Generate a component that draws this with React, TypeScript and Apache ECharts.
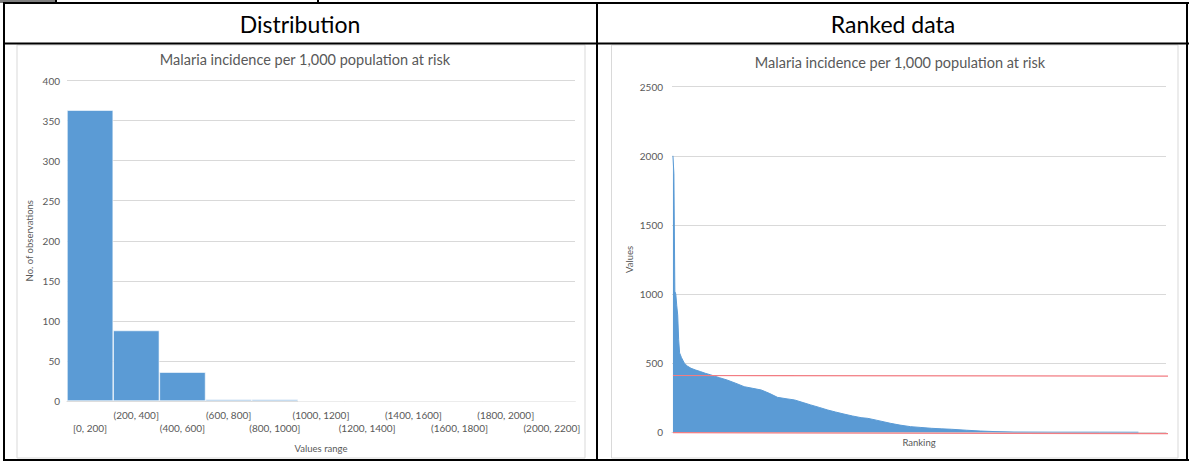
import React, { useEffect, useRef } from "react";
import * as echarts from "echarts";

const headerLeft = "Distribution";
const headerRight = "Ranked data";
const chartTitle = "Malaria incidence per 1,000 population at risk";

const distCategories = [
  "[0, 200]", "(200, 400]", "(400, 600]", "(600, 800]", "(800, 1000]", "(1000, 1200]",
  "(1200, 1400]", "(1400, 1600]", "(1600, 1800]", "(1800, 2000]", "(2000, 2200]",
];
const distCounts = [363, 88, 36, 2, 2, 0, 0, 0, 0, 0, 0];

const rankPositions = [
  1, 2, 3, 4, 5, 6, 7, 8, 10, 13, 16, 20, 25, 30, 35, 41, 50, 58, 67, 76, 85, 94, 103, 111,
  120, 129, 138, 146, 155, 164, 172, 181, 190, 199, 206, 215, 230, 240, 251, 262, 273, 284,
  294, 310, 325, 340, 360, 400, 450, 491,
];
const rankValues = [
  2000, 1870, 1020, 1000, 916, 849, 670, 574, 540, 500, 480, 463, 450, 439, 427, 415, 395, 378,
  355, 330, 318, 306, 280, 253, 243, 234, 215, 198, 180, 161, 147, 132, 118, 106, 101, 88, 65,
  52, 41, 35, 29, 25, 22, 15, 9, 5, 2, 1, 1, 0.5,
];
const upperLine = [[1, 411], [523, 406]];
const lowerLine = [[1, -3], [523, -10]];

const GRAY = "#595959";
const GRID = "#d9d9d9";
const BLUE = "#5b9bd5";
const RED = "#f27d83";
const FONT = "Lato";

export default function App() {
  const ref = useRef<HTMLDivElement>(null);
  useEffect(() => {
    if (!ref.current) return;
    const chart = echarts.init(ref.current, undefined, { renderer: "svg" });
    const blk = { stroke: "#000", lineWidth: 2 };
    const frame = { stroke: GRID, lineWidth: 1, fill: "#fff" };
    const plain = (v: number) => String(v);
    chart.setOption({
      animation: false,
      backgroundColor: "#fff",
      textStyle: { fontFamily: FONT },
      title: [
        { text: chartTitle, left: 300, top: 47, textAlign: "center",
          textStyle: { fontSize: 14.5, fontWeight: "normal", color: GRAY, fontFamily: FONT } },
        { text: chartTitle, left: 895, top: 50, textAlign: "center",
          textStyle: { fontSize: 14.5, fontWeight: "normal", color: GRAY, fontFamily: FONT } },
      ],
      graphic: [
        { type: "rect", z: -10, shape: { x: 17, y: 45, width: 568, height: 413 }, style: frame, silent: true },
        { type: "rect", z: -10, shape: { x: 611.5, y: 45, width: 566.5, height: 413 }, style: frame, silent: true },
        { type: "rect", shape: { x: 0, y: 0, width: 55, height: 3 }, style: { fill: "#7f7f7f" } },
        { type: "line", shape: { x1: 56, y1: 0, x2: 56, y2: 3 }, style: blk },
        { type: "line", shape: { x1: 318, y1: 0, x2: 318, y2: 3 }, style: blk },
        { type: "line", shape: { x1: 3, y1: 3, x2: 1189, y2: 3 }, style: blk },
        { type: "line", shape: { x1: 4, y1: 3, x2: 4, y2: 461 }, style: blk },
        { type: "line", shape: { x1: 3, y1: 43.5, x2: 1189, y2: 43.5 }, style: blk },
        { type: "line", shape: { x1: 597, y1: 3, x2: 597, y2: 461 }, style: blk },
        { type: "line", shape: { x1: 1187, y1: 3, x2: 1187, y2: 461 }, style: blk },
        { type: "line", shape: { x1: 3, y1: 460, x2: 1189, y2: 460 }, style: blk },
        { type: "text", x: 300, y: 24, style: { text: headerLeft, fontSize: 23, fontWeight: "normal", fontFamily: FONT, fill: "#000", align: "center", verticalAlign: "middle" } },
        { type: "text", x: 893, y: 24, style: { text: headerRight, fontSize: 23, fontWeight: "normal", fontFamily: FONT, fill: "#000", align: "center", verticalAlign: "middle" } },
      ],
      grid: [
        { left: 67, right: 1189 - 575, top: 80.5, bottom: 462 - 401 },
        { left: 672, right: 1189 - 1166, top: 86.7, bottom: 462 - 432.3 },
      ],
      xAxis: [
        {
          type: "category", gridIndex: 0, data: distCategories,
          name: "Values range", nameLocation: "middle", nameGap: 42,
          nameTextStyle: { fontSize: 9.5, color: GRAY, fontFamily: FONT },
          axisLine: { lineStyle: { color: GRID } }, axisTick: { show: false },
          axisLabel: {
            interval: 0, color: GRAY, fontSize: 10, lineHeight: 13, margin: 7.5, fontFamily: FONT,
            formatter: (v: string, i: number) => (i % 2 === 0 ? "\n" + v : v + "\n"),
          },
        },
        {
          type: "value", gridIndex: 1, min: 0, max: 520,
          name: "Ranking", nameLocation: "middle", nameGap: 5,
          nameTextStyle: { fontSize: 9.5, color: GRAY, fontFamily: FONT },
          axisLine: { show: true, onZero: false, lineStyle: { color: GRID } },
          axisTick: { show: false }, axisLabel: { show: false }, splitLine: { show: false },
        },
      ],
      yAxis: [
        {
          type: "value", gridIndex: 0, min: 0, max: 400, interval: 50,
          name: "No. of observations", nameLocation: "middle", nameGap: 33, nameRotate: 90,
          nameTextStyle: { fontSize: 9.5, color: GRAY, fontFamily: FONT },
          axisLine: { show: false }, axisTick: { show: false },
          axisLabel: { color: GRAY, fontSize: 10, margin: 7, fontFamily: FONT, formatter: plain },
          splitLine: { lineStyle: { color: GRID } },
        },
        {
          type: "value", gridIndex: 1, min: 0, max: 2500, interval: 500,
          name: "Values", nameLocation: "middle", nameGap: 38, nameRotate: 90,
          nameTextStyle: { fontSize: 9.5, color: GRAY, fontFamily: FONT },
          axisLine: { show: false }, axisTick: { show: false },
          axisLabel: { color: GRAY, fontSize: 10, margin: 9, fontFamily: FONT, formatter: plain },
          splitLine: { lineStyle: { color: GRID } },
        },
      ],
      series: [
        {
          type: "bar", xAxisIndex: 0, yAxisIndex: 0, data: distCounts, barCategoryGap: "0%",
          itemStyle: { color: BLUE, borderColor: "#fff", borderWidth: 0.6 },
        },
        {
          type: "line", xAxisIndex: 1, yAxisIndex: 1,
          data: rankPositions.map((r, i) => [r, rankValues[i]]),
          showSymbol: false, lineStyle: { color: BLUE, width: 1 },
          areaStyle: { color: BLUE, opacity: 1 },
        },
        {
          type: "line", xAxisIndex: 1, yAxisIndex: 1, data: upperLine, clip: false,
          showSymbol: false, lineStyle: { color: RED, width: 1.2 }, z: 5,
        },
        {
          type: "line", xAxisIndex: 1, yAxisIndex: 1, data: lowerLine, clip: false,
          showSymbol: false, lineStyle: { color: RED, width: 1.2 }, z: 5,
        },
      ],
    });
    return () => chart.dispose();
  }, []);
  return (
    <div
      ref={ref}
      style={{ position: "absolute", left: 0, top: 0, width: 1189, height: 462 }}
    />
  );
}
